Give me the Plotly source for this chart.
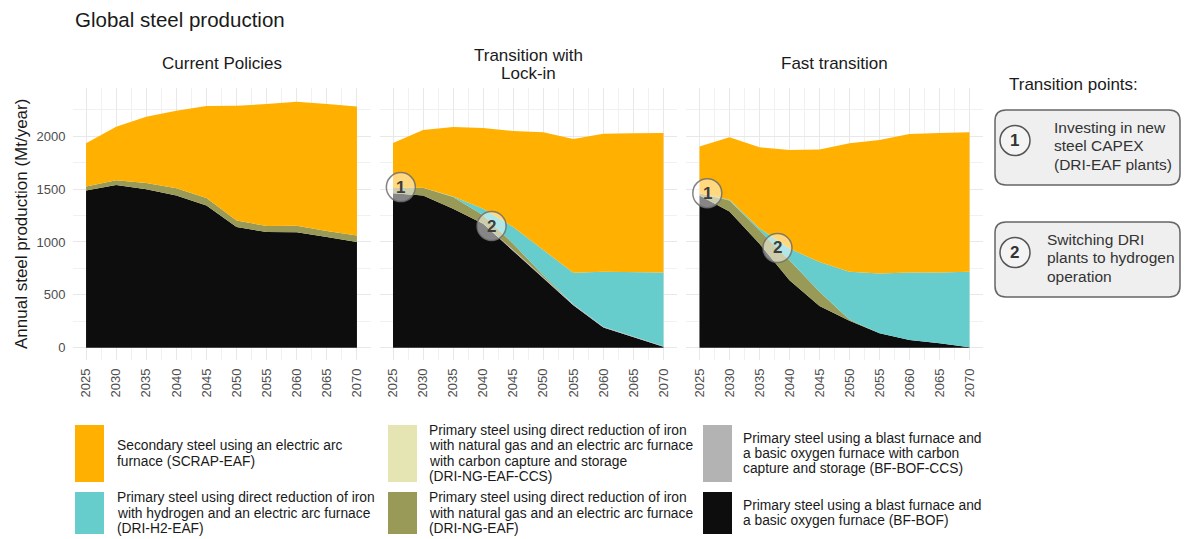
import plotly.graph_objects as go

W, H = 1187, 539
FONT = "Liberation Sans, Arial, sans-serif"

years = [2025, 2030, 2035, 2040, 2045, 2050, 2055, 2060, 2065, 2070]

scenarios = ["Current Policies", "Transition with Lock-in", "Fast transition"]

# Production by route (Mt/year), bottom of the stack first
bf_bof = {
    "Current Policies":        [1487, 1538, 1500, 1440, 1346, 1141, 1094, 1091, 1047, 1000],
    "Transition with Lock-in": [1460, 1440, 1314, 1173, 915, 660, 400, 190, 100, 8],
    "Fast transition":         [1440, 1289, 984, 638, 393, 255, 135, 72, 41, 3],
}
bf_bof_ccs = {
    "Current Policies":        [0, 0, 0, 0, 0, 0, 0, 0, 0, 0],
    "Transition with Lock-in": [0, 0, 0, 0, 8, 10, 10, 8, 6, 4],
    "Fast transition":         [0, 0, 0, 0, 0, 0, 0, 0, 0, 0],
}
dri_ng_eaf = {
    "Current Policies":        [38, 47, 57, 69, 69, 63, 57, 63, 57, 60],
    "Transition with Lock-in": [50, 72, 111, 79, 61, 16, 0, 0, 0, 0],
    "Fast transition":         [20, 104, 126, 189, 135, 10, 0, 0, 0, 0],
}
dri_ng_eaf_ccs = {
    "Current Policies":        [0, 0, 0, 0, 0, 0, 0, 0, 0, 0],
    "Transition with Lock-in": [0, 0, 0, 0, 0, 0, 0, 0, 0, 0],
    "Fast transition":         [0, 0, 0, 0, 0, 0, 0, 0, 0, 0],
}
dri_h2_eaf = {
    "Current Policies":        [0, 0, 0, 0, 0, 0, 0, 0, 0, 0],
    "Transition with Lock-in": [0, 0, 6, 62, 157, 235, 298, 519, 608, 699],
    "Fast transition":         [0, 6, 20, 110, 283, 452, 566, 639, 670, 714],
}
scrap_eaf = {
    "Current Policies":        [409, 506, 629, 733, 871, 1085, 1154, 1173, 1201, 1223],
    "Transition with Lock-in": [427, 548, 657, 765, 909, 1117, 1267, 1308, 1314, 1320],
    "Fast transition":         [443, 592, 766, 934, 1063, 1217, 1264, 1311, 1320, 1321],
}

routes = [
    ("BF-BOF", bf_bof, "#0d0d0d"),
    ("BF-BOF-CCS", bf_bof_ccs, "#b3b3b3"),
    ("DRI-NG-EAF", dri_ng_eaf, "#9a9a58"),
    ("DRI-NG-EAF-CCS", dri_ng_eaf_ccs, "#e4e5b3"),
    ("DRI-H2-EAF", dri_h2_eaf, "#66cccc"),
    ("SCRAP-EAF", scrap_eaf, "#ffb000"),
]
route_colors = {name: col for name, _, col in routes}

# Transition points marked on the charts: (scenario, label, year, Mt/year)
transition_points = [
    ("Transition with Lock-in", "1", 2026.3, 1519),
    ("Transition with Lock-in", "2", 2041.4, 1151),
    ("Fast transition", "1", 2026.3, 1462),
    ("Fast transition", "2", 2038.0, 943),
]

legend_rows = [
    [("SCRAP-EAF", ["Secondary steel using an electric arc", "furnace (SCRAP-EAF)"]),
     ("DRI-NG-EAF-CCS", ["Primary steel using direct reduction of iron",
                         "with natural gas and an electric arc furnace",
                         "with carbon capture and storage", "(DRI-NG-EAF-CCS)"]),
     ("BF-BOF-CCS", ["Primary steel using a blast furnace and",
                     "a basic oxygen furnace with carbon",
                     "capture and storage (BF-BOF-CCS)"])],
    [("DRI-H2-EAF", ["Primary steel using direct reduction of iron",
                     "with hydrogen and an electric arc furnace", "(DRI-H2-EAF)"]),
     ("DRI-NG-EAF", ["Primary steel using direct reduction of iron",
                     "with natural gas and an electric arc furnace", "(DRI-NG-EAF)"]),
     ("BF-BOF", ["Primary steel using a blast furnace and",
                 "a basic oxygen furnace (BF-BOF)"])],
]

side_notes = [
    ("1", ["Investing in new", "steel CAPEX", "(DRI-EAF plants)"]),
    ("2", ["Switching DRI", "plants to hydrogen", "operation"]),
]


def px(x):
    return x / W


def py(y):
    return 1 - y / H


panel_px = [(72.5, 370.5), (379.5, 677.0), (686.0, 983.0)]
plot_top, plot_bottom = 88, 360

fig = go.Figure()

for i, sc in enumerate(scenarios):
    ax = "" if i == 0 else str(i + 1)
    for name, table, col in routes:
        fig.add_trace(go.Scatter(
            x=years, y=table[sc], name=name, mode="lines",
            stackgroup="s" + str(i), line=dict(width=0, color=col),
            fillcolor=col, xaxis="x" + ax, yaxis="y" + ax,
            showlegend=False, hoverinfo="x+y+name",
        ))

axis_common = dict(
    showgrid=True, gridcolor="#e8e8e8", gridwidth=1, zeroline=False,
    showline=False, ticks="",
)
layout = dict(
    width=W, height=H, margin=dict(l=0, r=0, t=0, b=0),
    paper_bgcolor="white", plot_bgcolor="white",
    font=dict(family=FONT, color="#1a1a1a"),
    showlegend=False,
)
for i in range(3):
    sfx = "" if i == 0 else str(i + 1)
    x0, x1 = panel_px[i]
    layout["xaxis" + sfx] = dict(
        axis_common, domain=[px(x0), px(x1)], range=[2022.75, 2072.25],
        tickmode="linear", tick0=2025, dtick=5, tickangle=-90,
        tickfont=dict(size=13, color="#4d4d4d", family=FONT),
        ticklabelstandoff=5, anchor="y" + sfx,
        minor=dict(dtick=2.5, tick0=2025, showgrid=True, gridcolor="#f1f1f1", gridwidth=1),
    )
    layout["yaxis" + sfx] = dict(
        axis_common, domain=[py(plot_bottom), py(plot_top)], range=[-117, 2457],
        tickmode="linear", tick0=0, dtick=500,
        showticklabels=(i == 0),
        tickfont=dict(size=13, color="#4d4d4d", family=FONT),
        ticklabelstandoff=6, anchor="x" + sfx,
        minor=dict(dtick=250, tick0=0, showgrid=True, gridcolor="#f1f1f1", gridwidth=1),
    )
fig.update_layout(**layout)

shapes = []
annotations = []


def text(x, y, s, size, color="#1a1a1a", xanchor="left", **kw):
    annotations.append(dict(
        x=px(x), y=py(y), xref="paper", yref="paper", text=s, showarrow=False,
        xanchor=xanchor, yanchor="middle", font=dict(size=size, color=color, family=FONT),
        **kw))


# titles
text(73, 20, "Global steel production", 20.5)
centers = [(a + b) / 2 for a, b in panel_px]
text(centers[0], 64, "Current Policies", 17, xanchor="center")
text(centers[1], 55, "Transition with", 17, xanchor="center")
text(centers[1], 73, "Lock-in", 17, xanchor="center")
text(centers[2], 64, "Fast transition", 17, xanchor="center")
text(21, 224, "Annual steel production (Mt/year)", 17, xanchor="center", textangle=-90)

# transition markers on the charts
for sc, lab, yr, val in transition_points:
    sfx = "" if scenarios.index(sc) == 0 else str(scenarios.index(sc) + 1)
    shapes.append(dict(
        type="circle", xref="x" + sfx, yref="y" + sfx, xsizemode="pixel", ysizemode="pixel",
        xanchor=yr, yanchor=val, x0=-14.5, x1=14.5, y0=-14.5, y1=14.5,
        fillcolor="rgba(255,255,255,0.5)", line=dict(color="rgba(110,110,110,0.85)", width=1.5),
    ))
    annotations.append(dict(
        x=yr, y=val, xref="x" + sfx, yref="y" + sfx, text="<b>" + lab + "</b>",
        showarrow=False, xanchor="center", yanchor="middle",
        font=dict(size=17, color="#3d3d3d", family=FONT),
    ))


def rounded_rect(x0, y0, x1, y1, r):
    rx, ry = r / W, r / H
    a, b, c, d = px(x0), py(y1), px(x1), py(y0)  # left, bottom, right, top
    return (f"M {a + rx} {b} L {c - rx} {b} Q {c} {b} {c} {b + ry} "
            f"L {c} {d - ry} Q {c} {d} {c - rx} {d} L {a + rx} {d} "
            f"Q {a} {d} {a} {d - ry} L {a} {b + ry} Q {a} {b} {a + rx} {b} Z")


# side panel
text(1007, 85, "Transition points:", 17)
box_tops = [110, 222]
for (lab, lines), top in zip(side_notes, box_tops):
    bottom = top + 75
    shapes.append(dict(type="path", xref="paper", yref="paper",
                       path=rounded_rect(995, top, 1180, bottom, 11),
                       fillcolor="#efefef", line=dict(color="#666666", width=1.5)))
    cy = (top + bottom) / 2 - 7 if lab == "1" else (top + bottom) / 2 - 7
    cx = 1015
    shapes.append(dict(type="circle", xref="paper", yref="paper",
                       x0=px(cx - 15), x1=px(cx + 15), y0=py(cy + 15), y1=py(cy - 15),
                       fillcolor="#f4f4f4", line=dict(color="#555555", width=1.5)))
    text(cx, cy, "<b>" + lab + "</b>", 17, color="#333333", xanchor="center")
    tx = 1052 if lab == "1" else 1045
    for k, ln in enumerate(lines):
        text(tx, top + 17 + k * 18.5, ln, 15.5, color="#333333")

# legend
key_x = [75, 388, 703]
txt_x = [115, 427, 741]
key_rows = [(425, 482), (492, 534)]
for r, row in enumerate(legend_rows):
    ky0, ky1 = key_rows[r]
    kc = (ky0 + ky1) / 2
    for c, (route, lines) in enumerate(row):
        shapes.append(dict(type="rect", xref="paper", yref="paper",
                           x0=px(key_x[c]), x1=px(key_x[c] + 29), y0=py(ky1), y1=py(ky0),
                           fillcolor=route_colors[route], line=dict(width=0)))
        n = len(lines)
        start = kc - (n - 1) * 15.2 / 2
        for k, ln in enumerate(lines):
            text(txt_x[c], start + k * 15.2, ln, 13.8, color="#1a1a1a")

fig.update_layout(shapes=shapes, annotations=annotations)
fig.write_html("out.html")
